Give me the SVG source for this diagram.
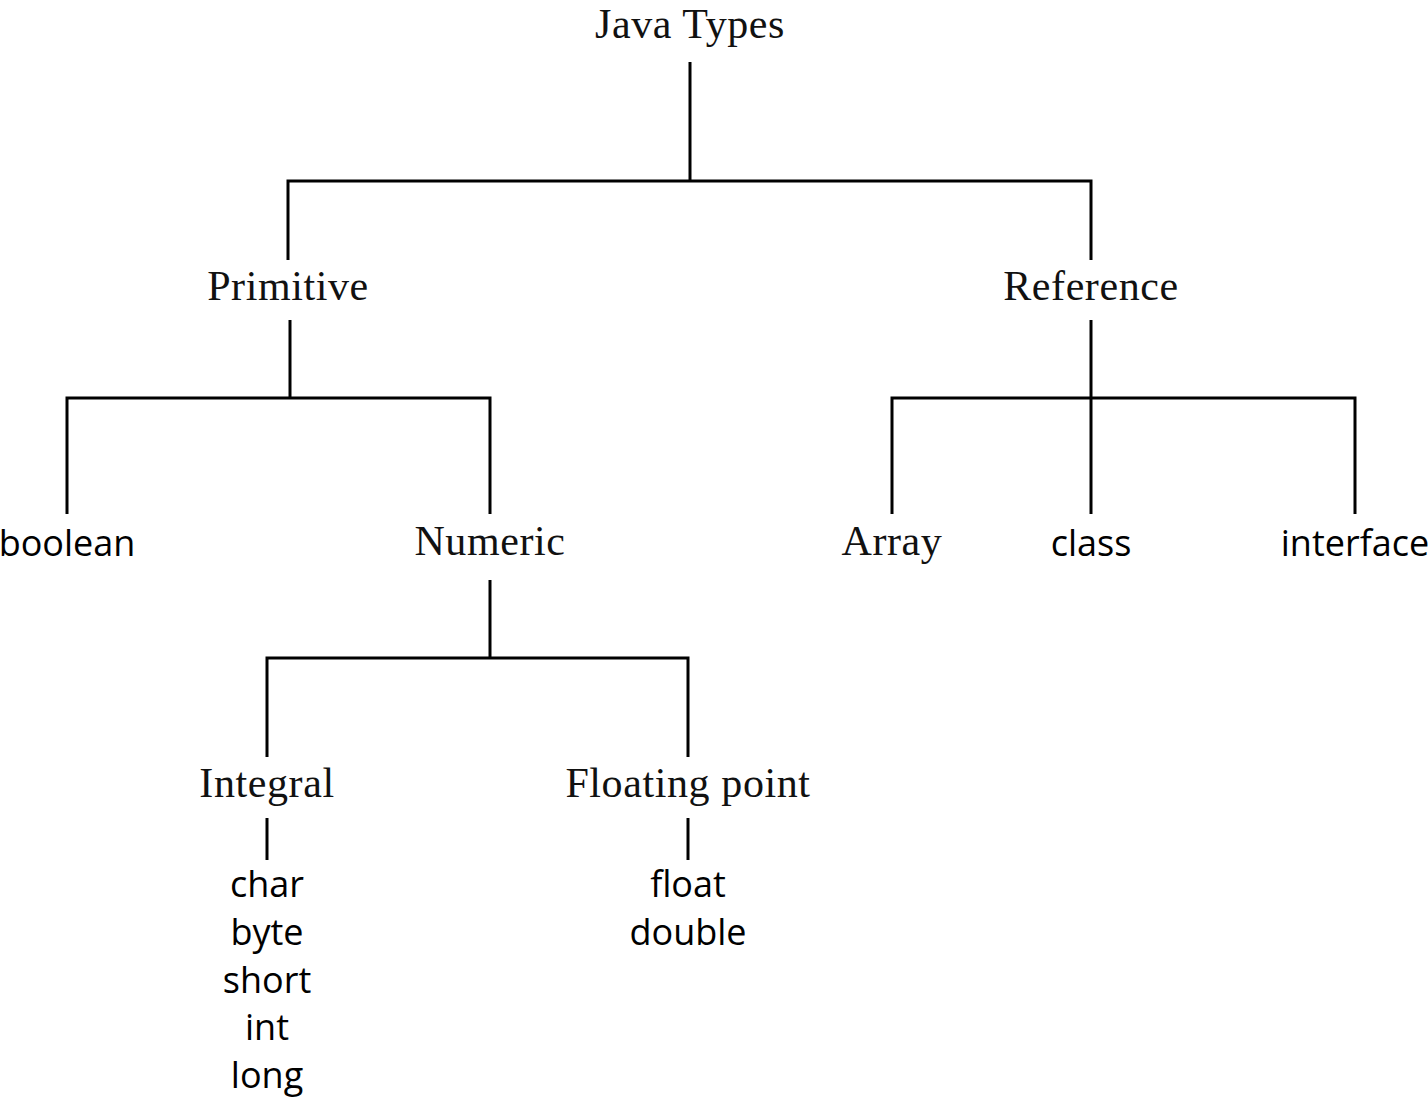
<svg xmlns="http://www.w3.org/2000/svg" width="1428" height="1100" viewBox="0 0 1428 1100">
<style>
.s{font-family:"Liberation Serif","Times New Roman",serif;font-size:42px;letter-spacing:0.6px;fill:#111;text-anchor:middle}
.a{font-family:"Open Sans","Liberation Sans",sans-serif;font-size:36px;fill:#000;text-anchor:middle}
.c line,.c polyline{stroke:#000;stroke-width:3;fill:none}
</style>
<rect width="1428" height="1100" fill="#fff"/>
<g class="c" id="connectors">
<line x1="690" y1="62" x2="690" y2="181"/>
<polyline points="288,260 288,181 1091,181 1091,260"/>
<line x1="290" y1="320" x2="290" y2="398"/>
<polyline points="67,514 67,398 490,398 490,514"/>
<line x1="1091" y1="320" x2="1091" y2="514"/>
<polyline points="892,514 892,398 1355,398 1355,514"/>
<line x1="490" y1="580" x2="490" y2="658"/>
<polyline points="267,757 267,658 688,658 688,757"/>
<line x1="267" y1="818" x2="267" y2="860"/>
<line x1="688" y1="818" x2="688" y2="860"/>
</g>
<g id="java-types"><text class="s" x="690" y="38">Java Types</text></g>
<g id="primitive"><text class="s" x="288" y="300">Primitive</text></g>
<g id="reference"><text class="s" x="1091" y="300">Reference</text></g>
<g id="boolean"><text class="a" x="67" y="556">boolean</text></g>
<g id="numeric"><text class="s" x="490" y="555">Numeric</text></g>
<g id="array"><text class="s" x="892" y="555">Array</text></g>
<g id="class"><text class="a" x="1091" y="556">class</text></g>
<g id="interface"><text class="a" x="1355" y="556">interface</text></g>
<g id="integral"><text class="s" x="267" y="797">Integral</text></g>
<g id="floating-point"><text class="s" x="688" y="797">Floating point</text></g>
<g id="integral-types">
<text class="a" x="267" y="897">char</text>
<text class="a" x="267" y="945">byte</text>
<text class="a" x="267" y="993">short</text>
<text class="a" x="267" y="1040">int</text>
<text class="a" x="267" y="1088">long</text>
</g>
<g id="float-types">
<text class="a" x="688" y="897">float</text>
<text class="a" x="688" y="945">double</text>
</g>
</svg>
